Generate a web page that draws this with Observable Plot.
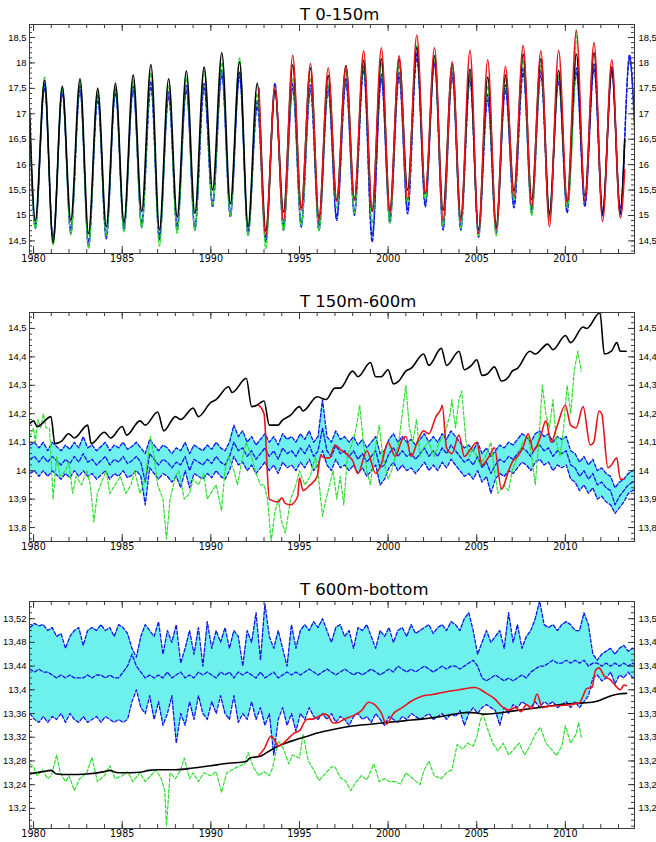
<!DOCTYPE html>
<html><head><meta charset="utf-8">
<script src="https://cdn.jsdelivr.net/npm/d3@7"></script>
<script src="https://cdn.jsdelivr.net/npm/@observablehq/plot@0.6"></script>
<style>
body{margin:0;background:#fff;}
#wrap{position:relative;width:656px;height:842px;overflow:hidden;background:#fff;}
.panel{position:absolute;left:0;}
.title{position:absolute;left:300px;font-family:"DejaVu Sans",sans-serif;font-size:16.5px;line-height:16.5px;color:#000;white-space:nowrap;z-index:2;}
</style></head><body><div id="wrap"></div>
<script>
// ---------- shared axis values ----------
const xDomain = [1979.77, 2013.9];
const yearMajor = [1980, 1985, 1990, 1995, 2000, 2005, 2010];
const yearMinor = d3.range(1980, 2014);
const titles = ["T 0-150m", "T 150m-600m", "T 600m-bottom"];

// ---------- panel 1 : T 0-150m (seasonal troughs ~Feb, peaks ~Aug) ----------
const y1Major = [14.5, 15, 15.5, 16, 16.5, 17, 17.5, 18, 18.5];
const black1Trough = [14.9,14.46,14.9,14.64,14.78,14.87,15.08,14.72,14.97,15.04,15.5,15.23,14.78,14.7,15.07,15.15,14.95,15.3,15.32,15.08,15.1,15.5,15.43,15.1,14.95,14.72,14.78,15.48,15.31,15.05,15.28,15.38,15.05,15.02];
const black1Peak = [17.66,17.54,17.69,17.5,17.6,17.76,17.97,17.69,17.84,17.92,18.2,18.02,17.6,17.45,17.96,17.9,17.75,17.95,18.05,18.08,18.08,18.3,18.14,17.98,17.88,17.72,17.76,18.17,18.08,17.85,18.17,18.2,17.85];
const red1Trough = [14.61,14.9,15.1,14.9,15.28,15.3,15.08,15.05,15.32,15.43,14.9,14.88,14.65,14.72,15.38,15.18,14.78,15.25,15.28,14.88,14.95];
const red1Peak = [17.53,18.15,17.99,17.9,17.93,18.24,18.3,18.14,18.55,18.3,18.02,18.25,18.06,17.93,18.34,18.24,18.25,18.63,18.4,18.06];
const blueA1Trough = [14.74,14.48,14.64,14.38,14.54,14.7,14.77,14.51,14.71,14.71,15.17,14.97,14.61,14.48,14.71,14.77,14.71,14.9,15.0,14.48,14.85,15.03,15.17,14.71,14.71,14.57,14.64,15.15,15.05,14.92,15.05,15.17,14.98,15.05];
const blueA1Peak = [17.5,17.4,17.46,17.27,17.4,17.46,17.53,17.33,17.46,17.5,17.76,17.73,17.14,17.5,17.5,17.46,17.45,17.6,17.85,17.68,17.72,18.1,17.98,17.72,17.66,17.27,17.46,17.8,17.76,17.63,17.8,17.88,17.83,18.08];
const blueB1Trough = [14.82,14.57,14.72,14.47,14.62,14.79,14.85,14.6,14.8,14.78,15.25,15.06,14.7,14.57,14.8,14.85,14.8,14.98,15.09,14.6,14.94,15.12,15.25,14.8,14.8,14.66,14.73,15.24,15.13,15.0,15.14,15.25,15.07,15.13];
const blueB1Peak = [17.6,17.5,17.55,17.37,17.5,17.56,17.64,17.43,17.56,17.6,17.86,17.83,17.26,17.6,17.6,17.57,17.56,17.7,17.95,17.78,17.82,18.2,18.08,17.83,17.76,17.38,17.57,17.9,17.86,17.74,17.9,17.98,17.93,18.16];
const green1Trough = [14.75,14.42,14.62,14.35,14.6,14.68,14.75,14.4,14.65,14.72,15.2,15.0,14.6,14.35,14.7,14.8,14.7,15.15,15.05,14.85,14.85,15.25,15.3,14.8,14.75,14.6,14.6,15.3,15.0,14.9,15.15];
const green1Peak = [17.72,17.5,17.65,17.45,17.55,17.65,17.8,17.55,17.7,17.85,18.0,18.1,17.4,17.5,17.7,17.7,17.6,17.85,18.0,18.0,17.95,18.35,18.1,17.9,17.8,17.55,17.7,18.05,17.95,17.75,18.65];

// ---------- panel 2 : T 150m-600m ----------
const y2Major = [13.8, 13.9, 14, 14.1, 14.2, 14.3, 14.4, 14.5];
const black2 = [[1979.77,14.165],[1980.0,14.175],[1980.2,14.155],[1980.98,14.19],[1981.2,14.095],[1981.6,14.105],[1981.97,14.13],[1982.3,14.115],[1983.05,14.16],[1983.25,14.095],[1984.0,14.135],[1984.35,14.115],[1985.0,14.155],[1985.25,14.125],[1986.0,14.175],[1986.3,14.16],[1987.0,14.206],[1987.35,14.14],[1988.0,14.19],[1988.3,14.18],[1989.0,14.22],[1989.3,14.19],[1990.0,14.24],[1990.3,14.25],[1991.0,14.295],[1991.2,14.275],[1992.0,14.325],[1992.3,14.225],[1992.6,14.23],[1993.0,14.245],[1993.3,14.16],[1993.8,14.16],[1994.0,14.175],[1994.5,14.195],[1995.0,14.225],[1995.2,14.21],[1996.0,14.26],[1996.5,14.25],[1997.0,14.29],[1997.3,14.29],[1998.0,14.35],[1998.3,14.33],[1999.0,14.38],[1999.3,14.33],[1999.6,14.33],[2000.0,14.355],[2000.3,14.305],[2000.6,14.315],[2001.0,14.35],[2001.3,14.36],[2002.0,14.41],[2002.3,14.37],[2003.0,14.43],[2003.3,14.37],[2004.0,14.42],[2004.3,14.355],[2004.7,14.37],[2005.0,14.39],[2005.3,14.335],[2005.6,14.34],[2006.0,14.365],[2006.4,14.315],[2006.8,14.33],[2007.0,14.35],[2007.3,14.36],[2008.0,14.42],[2008.3,14.41],[2009.0,14.445],[2009.3,14.425],[2010.0,14.475],[2010.3,14.45],[2011.0,14.505],[2011.2,14.5],[2011.95,14.555],[2012.2,14.41],[2012.6,14.42],[2012.9,14.45],[2013.1,14.42],[2013.43,14.42]];
const red2 = [[1992.7,14.23],[1993.0,14.2],[1993.3,13.9],[1993.8,13.89],[1994.0,13.905],[1994.2,13.885],[1994.5,13.88],[1994.9,13.91],[1995.0,13.975],[1995.2,13.93],[1995.6,13.95],[1996.0,13.98],[1996.2,14.055],[1996.4,14.045],[1996.7,14.045],[1997.0,14.09],[1997.3,14.075],[1997.8,14.05],[1998.0,14.035],[1998.3,13.99],[1998.8,14.07],[1999.3,13.99],[1999.6,14.02],[2000.0,14.1],[2000.4,14.05],[2000.8,14.11],[2001.0,14.12],[2001.3,14.05],[2001.7,14.11],[2002.0,14.14],[2002.3,14.13],[2002.7,14.19],[2003.0,14.22],[2003.05,14.23],[2003.3,14.08],[2003.6,14.06],[2004.0,14.125],[2004.3,14.05],[2004.7,14.08],[2005.0,14.1],[2005.3,14.02],[2005.7,14.05],[2006.0,14.08],[2006.4,13.935],[2006.8,14.0],[2007.0,14.03],[2007.3,14.05],[2007.6,14.08],[2007.9,14.13],[2008.2,14.07],[2008.6,14.12],[2008.9,14.175],[2009.2,14.1],[2009.5,14.15],[2010.0,14.23],[2010.3,14.16],[2010.6,14.15],[2011.0,14.225],[2011.4,14.09],[2011.6,14.1],[2011.9,14.21],[2012.05,14.2],[2012.4,14.01],[2012.6,14.02],[2012.9,14.045],[2013.1,13.97],[2013.3,13.97]];
const green2 = [[1979.8,14.12],[1980.0,14.15],[1980.1,14.1],[1980.25,14.18],[1980.4,14.15],[1980.55,14.2],[1980.7,14.15],[1980.9,14.15],[1981.1,13.9],[1981.3,14.05],[1981.5,13.98],[1981.8,14.0],[1982.0,14.03],[1982.2,13.92],[1982.4,13.98],[1982.7,13.95],[1983.0,14.0],[1983.2,13.95],[1983.4,13.82],[1983.6,13.92],[1983.9,13.97],[1984.1,14.0],[1984.3,13.92],[1984.6,13.95],[1984.9,13.98],[1985.2,13.92],[1985.5,13.95],[1985.7,14.0],[1986.0,13.92],[1986.3,13.97],[1986.6,14.12],[1986.8,14.05],[1987.0,13.95],[1987.3,13.9],[1987.5,13.76],[1987.7,13.9],[1988.0,13.98],[1988.2,14.0],[1988.5,13.9],[1988.8,13.92],[1989.0,13.97],[1989.3,13.95],[1989.6,13.99],[1989.8,13.9],[1990.0,13.92],[1990.3,13.95],[1990.6,13.86],[1990.8,14.0],[1991.0,14.05],[1991.3,14.0],[1991.5,13.95],[1991.8,14.05],[1992.0,14.1],[1992.3,14.05],[1992.5,14.0],[1992.8,13.95],[1993.0,13.95],[1993.2,13.9],[1993.4,13.75],[1993.6,13.85],[1993.8,13.9],[1994.0,13.82],[1994.2,13.78],[1994.5,13.9],[1994.8,13.95],[1995.0,14.0],[1995.3,13.95],[1995.6,13.98],[1995.9,14.05],[1996.1,13.96],[1996.3,13.84],[1996.5,13.9],[1996.7,13.95],[1996.9,14.0],[1997.1,13.9],[1997.3,13.98],[1997.5,13.88],[1997.7,14.05],[1998.0,14.1],[1998.2,14.15],[1998.4,14.23],[1998.6,14.1],[1998.8,14.0],[1999.0,13.95],[1999.2,14.05],[1999.5,14.16],[1999.7,14.05],[2000.0,13.97],[2000.2,14.0],[2000.4,14.05],[2000.6,14.1],[2000.8,14.2],[2001.0,14.3],[2001.2,14.15],[2001.4,14.1],[2001.6,14.18],[2001.8,14.05],[2002.0,14.08],[2002.3,14.1],[2002.6,14.05],[2002.9,14.1],[2003.2,14.13],[2003.5,14.2],[2003.6,14.25],[2003.8,14.15],[2004.0,14.25],[2004.15,14.28],[2004.4,14.1],[2004.6,14.05],[2004.8,14.08],[2005.0,14.05],[2005.2,14.02],[2005.5,14.05],[2005.8,14.1],[2006.0,14.0],[2006.2,13.92],[2006.5,13.95],[2006.8,13.93],[2007.0,14.0],[2007.3,14.05],[2007.6,14.1],[2007.9,14.12],[2008.1,14.05],[2008.3,13.95],[2008.5,14.1],[2008.7,14.3],[2008.9,14.2],[2009.1,14.15],[2009.3,14.25],[2009.5,14.1],[2009.7,14.05],[2009.9,14.15],[2010.1,14.3],[2010.3,14.2],[2010.5,14.35],[2010.7,14.42],[2010.9,14.35]];
// quarterly ensemble envelope (upper, mean, lower), from 1979.8 every quarter
const blueHi2 = [
14.09,14.1,14.08,14.1, 14.07,14.1,14.085,14.07, 14.09,14.075,14.1,14.08, 14.12,14.08,14.09,14.07, 14.085,14.1,14.07,14.09,
14.08,14.1,14.075,14.085, 14.1,14.08,14.06,14.11, 14.09,14.07,14.09,14.08, 14.06,14.08,14.07,14.1, 14.06,14.09,14.08,14.07,
14.09,14.075,14.1,14.08, 14.07,14.1,14.16,14.12, 14.14,14.1,14.12,14.09, 14.11,14.13,14.1,14.12, 14.09,14.13,14.11,14.12,
14.1,14.13,14.11,14.14, 14.1,14.12,14.25,14.12, 14.1,14.14,14.11,14.12, 14.1,14.12,14.09,14.11, 14.08,14.1,14.12,14.06,
14.07,14.11,14.13,14.1, 14.12,14.1,14.11,14.09, 14.11,14.13,14.1,14.12, 14.1,14.13,14.11,14.14, 14.12,14.1,14.08,14.09,
14.07,14.1,14.06,14.08, 14.05,14.07,14.09,14.08, 14.1,14.09,14.11,14.13, 14.12,14.1,14.13,14.14, 14.12,14.13,14.1,14.12,
14.11,14.12,14.07,14.06, 14.03,14.05,14.02,14.04, 14.0,14.01,13.99,13.98, 13.94,13.96,13.97,13.99, 14.0,14.01];
const blueMid2 = [
14.04,14.05,14.03,14.05, 14.03,14.05,14.035,14.02, 14.04,14.025,14.05,14.03, 14.06,14.03,14.04,14.02, 14.035,14.05,14.02,14.04,
14.03,14.05,14.025,14.035, 14.05,14.03,13.96,14.06, 14.04,14.02,14.04,14.03, 14.01,14.03,14.02,14.05, 14.0,14.04,14.03,14.02,
14.04,14.025,14.05,14.03, 14.02,14.05,14.1,14.07, 14.08,14.05,14.07,14.04, 14.06,14.08,14.05,14.07, 14.04,14.08,14.06,14.07,
14.05,14.08,14.06,14.09, 14.05,14.07,14.15,14.07, 14.05,14.09,14.06,14.07, 14.05,14.07,14.04,14.06, 14.03,14.05,14.07,14.01,
14.02,14.06,14.08,14.05, 14.07,14.05,14.06,14.04, 14.06,14.08,14.05,14.07, 14.05,14.08,14.06,14.09, 14.07,14.05,14.03,14.04,
14.02,14.05,14.01,14.03, 13.99,14.02,14.04,14.03, 14.05,14.04,14.06,14.08, 14.07,14.05,14.08,14.09, 14.07,14.08,14.05,14.07,
14.06,14.07,14.02,14.01, 13.98,14.0,13.97,13.99, 13.95,13.96,13.94,13.93, 13.88,13.91,13.93,13.95, 13.96,13.97];
const blueLo2 = [
13.99,14.0,13.98,14.0, 13.98,14.0,13.985,13.97, 13.99,13.975,14.0,13.98, 14.0,13.98,13.99,13.97, 13.985,14.0,13.97,13.99,
13.98,14.0,13.975,13.985, 14.0,13.98,13.88,14.01, 13.99,13.97,13.99,13.98, 13.96,13.98,13.94,14.0, 13.94,13.99,13.98,13.97,
13.99,13.975,14.0,13.98, 13.97,14.0,14.05,14.02, 14.03,14.0,14.02,13.99, 14.01,14.03,14.0,14.02, 13.99,14.03,14.01,14.02,
14.0,14.03,14.01,14.04, 14.0,14.02,14.07,14.02, 14.0,14.04,14.01,14.02, 14.0,14.02,13.99,14.01, 13.98,14.0,14.02,13.95,
13.97,14.01,14.03,14.0, 14.02,14.0,14.01,13.99, 14.01,14.03,14.0,14.02, 14.0,14.03,14.01,14.04, 14.02,14.0,13.98,13.99,
13.97,14.0,13.96,13.98, 13.92,13.97,13.99,13.98, 14.0,13.99,14.01,14.03, 14.02,14.0,14.03,14.04, 14.02,14.03,14.0,14.02,
14.01,14.02,13.97,13.96, 13.93,13.95,13.92,13.94, 13.9,13.91,13.89,13.88, 13.85,13.87,13.89,13.92, 13.93,13.94];

// ---------- panel 3 : T 600m-bottom ----------
const y3Major = [13.2, 13.24, 13.28, 13.32, 13.36, 13.4, 13.44, 13.48, 13.52];
const black3 = [[1979.77,13.258],[1980.5,13.262],[1981.0,13.264],[1981.3,13.258],[1982.0,13.257],[1983.0,13.258],[1984.0,13.262],[1984.3,13.264],[1984.6,13.261],[1985.0,13.26],[1986.0,13.261],[1986.5,13.264],[1987.0,13.265],[1988.0,13.265],[1989.0,13.268],[1990.0,13.272],[1991.0,13.276],[1992.0,13.279],[1992.2,13.285],[1992.8,13.288],[1993.2,13.295],[1993.8,13.305],[1994.5,13.313],[1995.0,13.318],[1995.5,13.322],[1996.0,13.327],[1996.9,13.333],[1998.0,13.339],[1999.0,13.342],[2000.0,13.345],[2001.0,13.348],[2002.0,13.351],[2003.0,13.355],[2004.0,13.36],[2004.5,13.362],[2005.0,13.361],[2005.4,13.359],[2006.0,13.36],[2007.0,13.364],[2008.0,13.368],[2009.0,13.372],[2010.0,13.376],[2011.0,13.378],[2011.5,13.379],[2012.0,13.383],[2012.5,13.389],[2013.0,13.393],[2013.45,13.394]];
const red3 = [[1992.7,13.289],[1993.0,13.3],[1993.4,13.322],[1993.6,13.315],[1993.8,13.305],[1994.2,13.313],[1994.7,13.327],[1995.0,13.331],[1995.4,13.35],[1995.8,13.351],[1996.4,13.359],[1996.6,13.357],[1996.9,13.344],[1997.2,13.345],[1997.5,13.35],[1998.0,13.356],[1998.5,13.365],[1998.9,13.379],[1999.6,13.362],[1999.9,13.342],[2000.3,13.36],[2000.8,13.37],[2001.5,13.384],[2002.0,13.39],[2002.5,13.392],[2003.0,13.395],[2003.5,13.398],[2004.0,13.4],[2004.9,13.404],[2005.5,13.395],[2006.0,13.385],[2006.5,13.37],[2006.8,13.366],[2007.2,13.37],[2007.5,13.363],[2007.8,13.375],[2008.1,13.368],[2008.4,13.393],[2008.7,13.37],[2009.0,13.372],[2010.0,13.374],[2010.8,13.378],[2011.0,13.39],[2011.2,13.402],[2011.5,13.404],[2011.7,13.433],[2011.9,13.437],[2012.2,13.423],[2012.5,13.418],[2012.8,13.408],[2013.1,13.4],[2013.3,13.408],[2013.45,13.407]];
const green3 = [[1979.8,13.275],[1980.0,13.27],[1980.2,13.255],[1980.5,13.265],[1980.8,13.25],[1981.0,13.255],[1981.3,13.29],[1981.5,13.26],[1981.8,13.245],[1982.0,13.255],[1982.3,13.23],[1982.6,13.25],[1983.0,13.26],[1983.3,13.286],[1983.6,13.245],[1984.0,13.255],[1984.3,13.272],[1984.6,13.25],[1985.0,13.255],[1985.3,13.262],[1985.6,13.245],[1986.0,13.26],[1986.3,13.245],[1986.6,13.255],[1986.9,13.265],[1987.2,13.25],[1987.4,13.23],[1987.5,13.17],[1987.7,13.26],[1988.0,13.25],[1988.3,13.265],[1988.5,13.285],[1988.8,13.25],[1989.0,13.26],[1989.3,13.245],[1989.6,13.26],[1990.0,13.255],[1990.3,13.262],[1990.6,13.227],[1990.9,13.26],[1991.2,13.265],[1991.5,13.27],[1991.9,13.275],[1992.1,13.294],[1992.4,13.27],[1992.7,13.255],[1993.0,13.262],[1993.3,13.255],[1993.5,13.27],[1993.8,13.314],[1994.1,13.3],[1994.4,13.275],[1994.6,13.29],[1995.0,13.285],[1995.2,13.325],[1995.5,13.28],[1995.8,13.265],[1996.1,13.247],[1996.5,13.26],[1996.8,13.27],[1997.0,13.27],[1997.3,13.252],[1997.6,13.246],[1997.9,13.23],[1998.2,13.245],[1998.5,13.255],[1998.8,13.248],[1999.2,13.275],[1999.5,13.245],[1999.8,13.25],[2000.1,13.245],[2000.4,13.245],[2000.7,13.241],[2001.0,13.26],[2001.4,13.25],[2001.8,13.24],[2002.0,13.262],[2002.3,13.28],[2002.6,13.255],[2003.0,13.25],[2003.3,13.26],[2003.6,13.265],[2003.9,13.308],[2004.2,13.3],[2004.5,13.31],[2004.8,13.305],[2005.0,13.32],[2005.2,13.348],[2005.35,13.359],[2005.6,13.335],[2005.9,13.31],[2006.2,13.297],[2006.5,13.31],[2006.8,13.29],[2007.1,13.3],[2007.4,13.31],[2007.7,13.29],[2008.0,13.305],[2008.3,13.325],[2008.6,13.337],[2008.9,13.31],[2009.2,13.3],[2009.5,13.289],[2009.8,13.305],[2010.0,13.339],[2010.3,13.31],[2010.6,13.325],[2010.75,13.345],[2010.9,13.32]];
const blueHi3 = [
13.505,13.512,13.508,13.51, 13.5,13.505,13.49,13.495, 13.47,13.49,13.5,13.505, 13.475,13.5,13.505,13.5, 13.51,13.5,13.505,13.49,
13.51,13.505,13.495,13.47, 13.455,13.49,13.51,13.5, 13.49,13.515,13.46,13.5, 13.48,13.51,13.445,13.47, 13.5,13.46,13.505,13.44,
13.515,13.47,13.5,13.48, 13.505,13.47,13.5,13.49, 13.44,13.5,13.48,13.53, 13.45,13.545,13.49,13.47, 13.5,13.47,13.44,13.51,
13.47,13.5,13.51,13.5, 13.515,13.505,13.52,13.5, 13.48,13.505,13.51,13.49, 13.5,13.47,13.505,13.5, 13.51,13.49,13.47,13.5,
13.49,13.505,13.48,13.5, 13.505,13.49,13.51,13.495, 13.5,13.505,13.51,13.495, 13.505,13.51,13.5,13.515, 13.51,13.5,13.52,13.53,
13.5,13.46,13.48,13.5, 13.48,13.49,13.5,13.47, 13.53,13.48,13.51,13.47, 13.49,13.5,13.52,13.55, 13.51,13.505,13.51,13.5,
13.51,13.515,13.51,13.5, 13.5,13.53,13.51,13.46, 13.45,13.46,13.465,13.47, 13.46,13.47,13.475,13.465, 13.47,13.465];
const blueMid3 = [
13.435,13.43,13.435,13.43, 13.43,13.425,13.42,13.425, 13.42,13.425,13.42,13.42, 13.42,13.425,13.42,13.425, 13.425,13.42,13.425,13.42,
13.42,13.43,13.44,13.46, 13.44,13.43,13.42,13.425, 13.42,13.425,13.42,13.43, 13.42,13.425,13.43,13.42, 13.425,13.42,13.43,13.425,
13.43,13.425,13.42,13.43, 13.425,13.43,13.42,13.43, 13.425,13.43,13.425,13.42, 13.43,13.42,13.425,13.43, 13.42,13.425,13.43,13.425,
13.43,13.425,13.43,13.435, 13.43,13.425,13.43,13.435, 13.43,13.425,13.43,13.435, 13.43,13.425,13.43,13.425, 13.43,13.435,13.43,13.425,
13.43,13.435,13.43,13.44, 13.435,13.43,13.435,13.43, 13.435,13.44,13.435,13.43, 13.435,13.44,13.435,13.44, 13.44,13.435,13.44,13.445,
13.45,13.44,13.42,13.415, 13.42,13.425,13.42,13.415, 13.42,13.415,13.42,13.425, 13.42,13.43,13.435,13.44, 13.44,13.445,13.45,13.445,
13.445,13.45,13.445,13.45, 13.445,13.45,13.44,13.445, 13.445,13.44,13.445,13.44, 13.445,13.44,13.445,13.44, 13.445,13.44];
const blueLo3 = [
13.36,13.35,13.345,13.355, 13.345,13.355,13.35,13.36, 13.345,13.36,13.35,13.345, 13.355,13.345,13.35,13.355, 13.345,13.355,13.35,13.345,
13.35,13.345,13.35,13.38, 13.4,13.37,13.36,13.39, 13.35,13.38,13.34,13.36, 13.39,13.31,13.36,13.34, 13.38,13.35,13.39,13.36,
13.35,13.38,13.36,13.39, 13.36,13.35,13.39,13.345, 13.36,13.35,13.38,13.35, 13.37,13.34,13.36,13.29, 13.35,13.37,13.34,13.36,
13.33,13.36,13.35,13.37, 13.355,13.35,13.36,13.35, 13.36,13.345,13.355,13.35, 13.34,13.355,13.36,13.35, 13.355,13.345,13.36,13.35,
13.34,13.355,13.35,13.345, 13.355,13.35,13.36,13.355, 13.35,13.355,13.36,13.35, 13.355,13.36,13.35,13.36, 13.355,13.365,13.34,13.36,
13.37,13.36,13.37,13.375, 13.37,13.365,13.34,13.37, 13.36,13.375,13.37,13.38, 13.375,13.37,13.38,13.37, 13.38,13.375,13.38,13.37,
13.375,13.38,13.37,13.38, 13.37,13.38,13.39,13.42, 13.425,13.415,13.42,13.43, 13.41,13.425,13.42,13.43, 13.42,13.425];

// ---------- colours ----------
const C = {black: "#000000", red: "#e8141c", green: "#2fdc2f", blue: "#1414e6", cyan: "#6ef1ec", axis: "#3a3a3a"};

// ---------- data assembly ----------
function seasonal(firstYear, troughs, peaks, head, tail) {
  const out = [];
  if (head) out.push({t: head[0], v: head[1]});
  troughs.forEach((tr, i) => {
    out.push({t: firstYear + i + 0.1, v: tr});
    if (i < peaks.length) out.push({t: firstYear + i + 0.62, v: peaks[i]});
  });
  if (tail) out.push({t: tail[0], v: tail[1]});
  return out;
}
const pairs = a => a.map(([t, v]) => ({t, v}));
const quarterly = (hi, mid, lo) => hi.map((h, i) => ({t: 1979.8 + i * 0.25, hi: h, mid: mid[i], lo: lo[i]}));

const black1 = seasonal(1980, black1Trough, black1Peak, [1979.77, 17.1], [2013.35, 16.5]);
const red1 = seasonal(1993, red1Trough, red1Peak, [1992.72, 17.5], [2013.35, 15.9]);
const blueA1 = seasonal(1980, blueA1Trough, blueA1Peak, [1979.77, 16.9], [2013.95, 16.3]);
const blueB1 = seasonal(1980, blueB1Trough, blueB1Peak, [1979.77, 17.0], [2013.95, 16.5]);
const green1 = seasonal(1980, green1Trough, green1Peak, [1979.77, 17.0], null);
const band1 = blueA1.map((d, i) => ({t: d.t, lo: d.v, hi: blueB1[i].v}));

const band2 = quarterly(blueHi2, blueMid2, blueLo2);
const band3 = quarterly(blueHi3, blueMid3, blueLo3);

// ---------- drawing ----------
const fmt = d => String(d).replace(".", ",");
const ML = 29, MR = 22, MB = 14, W = 656;

function panel({top, height, marginTop, yDomain, yMajor, yMinorStep, marks}) {
  const fw = W - ML - MR, fh = height - marginTop - MB;
  const yMinor = d3.range(Math.ceil(yDomain[0] / yMinorStep) * yMinorStep, yDomain[1], yMinorStep).map(v => +v.toFixed(4));
  const ax = {stroke: C.axis, strokeWidth: 1};
  const chart = Plot.plot({
    width: W, height, marginTop, marginBottom: MB, marginLeft: ML, marginRight: MR,
    style: {background: "transparent", fontFamily: "DejaVu Sans, sans-serif"},
    x: {domain: xDomain, label: null},
    y: {domain: yDomain, label: null},
    marks: [
      ...marks,
      Plot.tickY(yMajor, {y: d => d, ...ax, insetRight: fw - 6}),
      Plot.tickY(yMajor, {y: d => d, ...ax, insetLeft: fw - 6}),
      Plot.tickY(yMinor, {y: d => d, ...ax, insetRight: fw - 3}),
      Plot.tickY(yMinor, {y: d => d, ...ax, insetLeft: fw - 3}),
      Plot.tickX(yearMajor, {x: d => d, ...ax, insetTop: fh - 7}),
      Plot.tickX(yearMajor, {x: d => d, ...ax, insetBottom: fh - 7}),
      Plot.tickX(yearMinor, {x: d => d, ...ax, insetTop: fh - 4}),
      Plot.tickX(yearMinor, {x: d => d, ...ax, insetBottom: fh - 4}),
      Plot.frame({stroke: C.axis, strokeWidth: 1}),
      Plot.axisY(yMajor, {anchor: "left", tickSize: 0, tickPadding: 3, tickFormat: fmt, fontSize: 9.4, fontFamily: "Liberation Sans, Arial, sans-serif", label: null}),
      Plot.axisY(yMajor, {anchor: "right", tickSize: 0, tickPadding: 4, tickFormat: fmt, fontSize: 9.4, fontFamily: "Liberation Sans, Arial, sans-serif", label: null}),
      Plot.axisX(yearMajor, {anchor: "bottom", tickSize: 0, tickPadding: 2, tickFormat: d => String(d), fontSize: 9.6, fontFamily: "DejaVu Sans, sans-serif", label: null})
    ]
  });
  chart.classList.add("panel");
  chart.style.top = top + "px";
  document.getElementById("wrap").appendChild(chart);
}

const dash = "3.5,2";
const lineOpts = (color, w, extra = {}) => ({x: "t", y: "v", stroke: color, strokeWidth: w, clip: true, ...extra});

// Panel 1
panel({
  top: 0, height: 267, marginTop: 24, yDomain: [14.252, 18.756], yMajor: y1Major, yMinorStep: 0.1,
  marks: [
    Plot.areaY(band1, {x: "t", y1: "lo", y2: "hi", fill: C.cyan, curve: "monotone-x", clip: true}),
    Plot.line(blueA1, lineOpts(C.blue, 1.3, {strokeDasharray: dash, curve: "monotone-x"})),
    Plot.line(blueB1, lineOpts(C.blue, 1.3, {strokeDasharray: dash, curve: "monotone-x"})),
    Plot.line(green1, lineOpts(C.green, 1.3, {strokeDasharray: dash, curve: "monotone-x"})),
    Plot.line(black1, lineOpts(C.black, 1.6, {curve: "monotone-x"})),
    Plot.line(red1, lineOpts(C.red, 1.6, {curve: "monotone-x"}))
  ]
});

// Panel 2
panel({
  top: 282, height: 273, marginTop: 30, yDomain: [13.751, 14.556], yMajor: y2Major, yMinorStep: 0.02,
  marks: [
    Plot.areaY(band2, {x: "t", y1: "lo", y2: "hi", fill: C.cyan, clip: true}),
    Plot.line(band2, {x: "t", y: "hi", stroke: C.blue, strokeWidth: 1.3, strokeDasharray: dash, clip: true}),
    Plot.line(band2, {x: "t", y: "lo", stroke: C.blue, strokeWidth: 1.3, strokeDasharray: dash, clip: true}),
    Plot.line(band2, {x: "t", y: "mid", stroke: C.blue, strokeWidth: 1.3, strokeDasharray: dash, clip: true}),
    Plot.line(pairs(green2), lineOpts(C.green, 1.2, {strokeDasharray: dash})),
    Plot.line(pairs(black2), lineOpts(C.black, 1.6, {curve: "monotone-x"})),
    Plot.line(pairs(red2), lineOpts(C.red, 1.6, {curve: "monotone-x"}))
  ]
});

// Panel 3
panel({
  top: 572, height: 270, marginTop: 29, yDomain: [13.166, 13.549], yMajor: y3Major, yMinorStep: 0.01,
  marks: [
    Plot.areaY(band3, {x: "t", y1: "lo", y2: "hi", fill: C.cyan, clip: true}),
    Plot.line(band3, {x: "t", y: "hi", stroke: C.blue, strokeWidth: 1.3, strokeDasharray: dash, clip: true}),
    Plot.line(band3, {x: "t", y: "lo", stroke: C.blue, strokeWidth: 1.3, strokeDasharray: dash, clip: true}),
    Plot.line(band3, {x: "t", y: "mid", stroke: C.blue, strokeWidth: 1.3, strokeDasharray: dash, clip: true}),
    Plot.line(pairs(green3), lineOpts(C.green, 1.2, {strokeDasharray: dash})),
    Plot.line(pairs(black3), lineOpts(C.black, 1.6, {curve: "monotone-x"})),
    Plot.line(pairs(red3), lineOpts(C.red, 1.6, {curve: "monotone-x"}))
  ]
});

// Titles
[7, 294, 582].forEach((top, i) => {
  const d = document.createElement("div");
  d.className = "title";
  d.style.top = top + "px";
  d.textContent = titles[i];
  document.getElementById("wrap").appendChild(d);
});
</script></body></html>
